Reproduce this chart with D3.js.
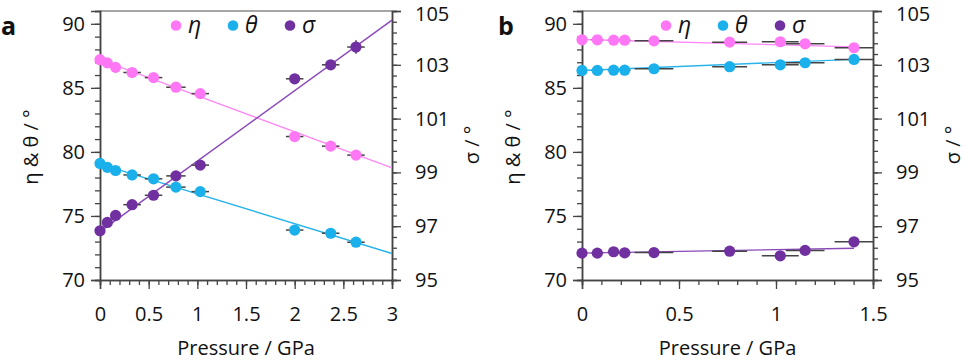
<!DOCTYPE html>
<html>
<head>
<meta charset="utf-8">
<script src="https://cdn.jsdelivr.net/npm/d3@7"></script>
<style>
  body { margin: 0; background: #fff; }
  svg { display: block; font-family: "Open Sans", sans-serif; }
</style>
</head>
<body>
<svg width="966" height="360"></svg>
<script>
// panel a data
const pressureA = [0, 0.075, 0.16, 0.33, 0.55, 0.78, 1.03, 2.0, 2.37, 2.63];
const pressureErrA = [0.02, 0.03, 0.05, 0.09, 0.09, 0.1, 0.09, 0.09, 0.09, 0.09];
const etaA = [87.2, 86.95, 86.6, 86.2, 85.8, 85.05, 84.55, 81.2, 80.45, 79.75];
const thetaA = [79.1, 78.8, 78.55, 78.2, 77.9, 77.25, 76.9, 73.9, 73.65, 72.95];
const sigmaA = [96.83, 97.14, 97.4, 97.8, 98.15, 98.87, 99.27, 102.48, 103.0, 103.66];
const sigmaErrA = [0, 0, 0, 0, 0, 0, 0, 0, 0, 0.25];
const etaErrA = [0, 0, 0, 0, 0, 0, 0, 0, 0, 0.3];
const thetaErrA = [0, 0, 0, 0, 0, 0, 0, 0, 0, 0.3];
const fitXA = [0, 3];
const etaFitA = [87.2, 78.75];
const thetaFitA = [79.05, 72.07];
const sigmaFitA = [96.8, 104.66];

// panel b data
const pressureB = [0, 0.079, 0.163, 0.22, 0.371, 0.761, 1.022, 1.15, 1.402];
const pressureErrB = [0.02, 0.03, 0.03, 0.03, 0.1, 0.09, 0.095, 0.1, 0.1];
const etaB = [88.75, 88.75, 88.72, 88.72, 88.67, 88.57, 88.6, 88.44, 88.13];
const thetaB = [86.36, 86.36, 86.38, 86.38, 86.49, 86.65, 86.8, 86.96, 87.22];
const sigmaB = [96.0, 96.0, 96.05, 96.01, 96.02, 96.07, 95.9, 96.1, 96.42];
const zerosB = [0, 0, 0, 0, 0, 0, 0, 0, 0];
const fitXB = [0, 1.402];
const etaFitB = [88.78, 88.2];
const thetaFitB = [86.36, 87.22];
const sigmaFitB = [96.0, 96.18];

// ticks
const leftTicks = [70, 75, 80, 85, 90];
const rightTicks = [95, 97, 99, 101, 103, 105];
const xTicksA = [0, 0.5, 1, 1.5, 2, 2.5, 3];
const xTicksB = [0, 0.5, 1, 1.5];
const legendNames = ["η", "θ", "σ"];

const colEta = "#ff77f5", colTheta = "#1ab0ec", colSigma = "#7030a0";
const lineEta = "#ff88f8", lineTheta = "#2ab4ea", lineSigma = "#8a48b8";
const axisCol = "#444";

const svg = d3.select("svg");

function fmt(d) { return String(d); }

function drawPanel(p) {
  const g = svg.append("g");
  const x = d3.scaleLinear().domain([0, p.xmax]).range([p.x0, p.x1]);
  const yL = d3.scaleLinear().domain([70, 91]).range([280, 11]);
  const yR = d3.scaleLinear().domain([95, 105]).range([280, 11]);

  // top spine
  g.append("line")
    .attr("x1", p.x0).attr("x2", p.x1).attr("y1", 11).attr("y2", 11)
    .attr("stroke", "#888").attr("stroke-width", 1.5);

  // minor ticks
  const minorL = d3.axisLeft(yL).tickValues(d3.range(70, 91.5, 1)).tickSize(5).tickFormat("");
  const minorR = d3.axisRight(yR).tickValues(d3.range(95, 105.01, 0.4)).tickSize(5).tickFormat("");
  const minorX = d3.axisBottom(x).tickValues(d3.range(0, p.xmax + 0.001, 0.1)).tickSize(5).tickFormat("");

  const axL = g.append("g").attr("transform", `translate(${p.x0},0)`);
  axL.call(minorL);
  axL.append("g").call(d3.axisLeft(yL).tickValues(leftTicks).tickSize(9).tickPadding(6).tickFormat(fmt));

  const axR = g.append("g").attr("transform", `translate(${p.x1},0)`);
  axR.call(minorR);
  axR.append("g").call(d3.axisRight(yR).tickValues(rightTicks).tickSize(9).tickPadding(14).tickFormat(fmt));
  // keep the top label inside the picture
  axR.selectAll(".tick text").filter(d => d === 105).attr("y", 3);

  const axX = g.append("g").attr("transform", "translate(0,280)");
  axX.call(minorX);
  axX.append("g").call(d3.axisBottom(x).tickValues(p.xTicks).tickSize(9).tickPadding(18).tickFormat(fmt));

  g.selectAll(".domain").attr("stroke", axisCol).attr("stroke-width", 1.5);
  g.selectAll(".tick line").attr("stroke", axisCol).attr("stroke-width", 1.3);
  g.selectAll(".tick text").attr("font-size", 20).attr("fill", "#111")
    .attr("font-family", "'Open Sans', sans-serif");

  // fit lines
  const series = [
    { v: p.eta, e: p.etaErr, fit: p.etaFit, y: yL, c: colEta, lc: lineEta },
    { v: p.theta, e: p.thetaErr, fit: p.thetaFit, y: yL, c: colTheta, lc: lineTheta },
    { v: p.sigma, e: p.sigmaErr, fit: p.sigmaFit, y: yR, c: colSigma, lc: lineSigma }
  ];
  series.forEach(s => {
    g.append("line")
      .attr("x1", x(p.fitX[0])).attr("x2", x(p.fitX[1]))
      .attr("y1", s.y(s.fit[0])).attr("y2", s.y(s.fit[1]))
      .attr("stroke", s.lc).attr("stroke-width", 1.4);
  });

  // error bars
  series.forEach(s => {
    const pts = p.px.map((d, i) => ({ x: d, xe: p.pxErr[i], v: s.v[i], ye: s.e[i] }));
    g.append("g").selectAll("line")
      .data(pts)
      .join("line")
        .attr("x1", d => x(d.x - d.xe)).attr("x2", d => x(d.x + d.xe))
        .attr("y1", d => s.y(d.v)).attr("y2", d => s.y(d.v))
        .attr("stroke", "#444").attr("stroke-width", 1.5);
    g.append("g").selectAll("line")
      .data(pts.filter(d => d.ye > 0))
      .join("line")
        .attr("x1", d => x(d.x)).attr("x2", d => x(d.x))
        .attr("y1", d => s.y(d.v - d.ye)).attr("y2", d => s.y(d.v + d.ye))
        .attr("stroke", "#444").attr("stroke-width", 1.5);
  });

  // points
  series.forEach(s => {
    g.append("g").selectAll("circle")
      .data(p.px.map((d, i) => [d, s.v[i]]))
      .join("circle")
        .attr("cx", d => x(d[0])).attr("cy", d => s.y(d[1]))
        .attr("r", 5.6).attr("fill", s.c);
  });

  // legend
  const lg = g.append("g");
  legendNames.forEach((n, i) => {
    const lx = p.legendX + i * 57;
    lg.append("circle").attr("cx", lx).attr("cy", 25.5).attr("r", 5.3).attr("fill", series[i].c);
    lg.append("text").attr("x", lx + 12).attr("y", 33).text(n)
      .attr("font-size", 23).attr("font-style", "italic").attr("fill", "#111");
  });

  // panel letter
  g.append("text").attr("x", p.letterX).attr("y", 35).text(p.letter)
    .attr("font-size", 25).attr("font-weight", "bold").attr("fill", "#111");

  // axis titles
  g.append("text")
    .attr("transform", `translate(${p.x0 - 62},147) rotate(-90)`)
    .attr("text-anchor", "middle").attr("font-size", 20).attr("fill", "#111")
    .text("η & θ / °");
  g.append("text")
    .attr("transform", `translate(${p.x1 + 87},145) rotate(-90)`)
    .attr("text-anchor", "middle").attr("font-size", 20).attr("fill", "#111")
    .text("σ / °");
  g.append("text")
    .attr("x", (p.x0 + p.x1) / 2).attr("y", 355)
    .attr("text-anchor", "middle").attr("font-size", 20).attr("fill", "#111")
    .text("Pressure / GPa");
}

drawPanel({
  letter: "a", letterX: 1, x0: 100, x1: 392, xmax: 3, xTicks: xTicksA,
  px: pressureA, pxErr: pressureErrA,
  eta: etaA, etaErr: etaErrA, theta: thetaA, thetaErr: thetaErrA,
  sigma: sigmaA, sigmaErr: sigmaErrA,
  fitX: fitXA, etaFit: etaFitA, thetaFit: thetaFitA, sigmaFit: sigmaFitA,
  legendX: 176
});

drawPanel({
  letter: "b", letterX: 498, x0: 582, x1: 873, xmax: 1.5, xTicks: xTicksB,
  px: pressureB, pxErr: pressureErrB,
  eta: etaB, etaErr: zerosB, theta: thetaB, thetaErr: zerosB,
  sigma: sigmaB, sigmaErr: zerosB,
  fitX: fitXB, etaFit: etaFitB, thetaFit: thetaFitB, sigmaFit: sigmaFitB,
  legendX: 666
});
</script>
</body>
</html>
